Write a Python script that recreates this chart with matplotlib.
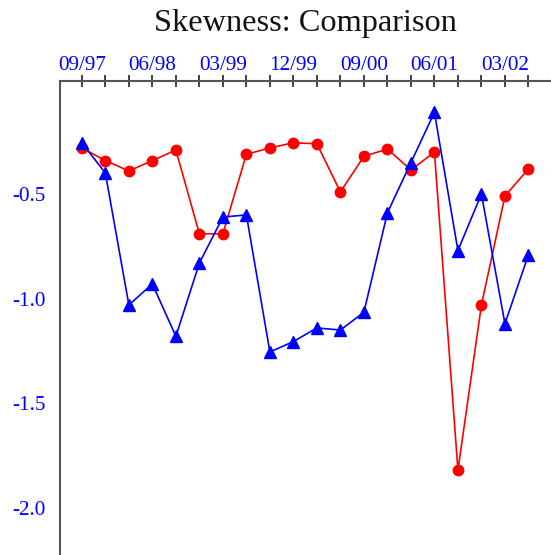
import matplotlib
matplotlib.use("Agg")
import matplotlib.pyplot as plt

# quarterly periods, 09/97 .. 06/02
periods = ["09/97", "12/97", "03/98", "06/98", "09/98", "12/98", "03/99", "06/99",
           "09/99", "12/99", "03/00", "06/00", "09/00", "12/00", "03/01", "06/01",
           "09/01", "12/01", "03/02", "06/02"]

# red series (circles)
skew_red = [-0.28, -0.34, -0.39, -0.34, -0.29, -0.69, -0.69, -0.31, -0.28, -0.255,
            -0.26, -0.49, -0.32, -0.285, -0.385, -0.30, -1.82, -1.03, -0.51, -0.38]
# blue series (triangles)
skew_blue = [-0.255, -0.40, -1.03, -0.93, -1.18, -0.83, -0.61, -0.60, -1.255, -1.205,
             -1.14, -1.15, -1.065, -0.59, -0.35, -0.11, -0.77, -0.50, -1.12, -0.79]

y_ticks = [-0.5, -1.0, -1.5, -2.0]

W, H = 551, 555
fig = plt.figure(figsize=(W / 100, H / 100), dpi=100)
ax = fig.add_axes([60 / W, 0, 1 - 60 / W, (H - 81) / H])

x = list(range(len(periods)))
ax.plot(x, skew_red, color="#ff0000", lw=1.2, marker="o", markersize=7.5, zorder=3)
ax.plot(x, skew_blue, color="#0000ff", lw=1.2, marker="^", markersize=8.5, zorder=4)

ax.set_xlim(-0.93, 19.96)
ax.set_ylim(-2.225, 0.04)

# ticks on top, label every third quarter
ax.xaxis.tick_top()
ax.set_xticks(x)
ax.set_xticklabels([p if i % 3 == 0 else "" for i, p in enumerate(periods)])
ax.tick_params(axis="x", direction="inout", length=8, width=1.2, color="#222222",
               labelcolor="#0000ff", labelsize=15.2, pad=0.5)

ax.set_yticks(y_ticks)
ax.set_yticklabels(["%.1f" % v for v in y_ticks])
ax.tick_params(axis="y", length=0, labelcolor="#0000ff", labelsize=15.2, pad=10.5)

for lab in ax.get_xticklabels() + ax.get_yticklabels():
    lab.set_fontfamily("Liberation Serif")

for s in ["right", "bottom"]:
    ax.spines[s].set_visible(False)
for s in ["left", "top"]:
    ax.spines[s].set_color("#555555")
    ax.spines[s].set_linewidth(1.5)

fig.text((60 + W) / 2 / W, 1 - 23 / H, "Skewness: Comparison", ha="center", va="center",
         fontsize=23.3, family="Liberation Serif", color="#111111")

fig.savefig("out.png", dpi=100)
